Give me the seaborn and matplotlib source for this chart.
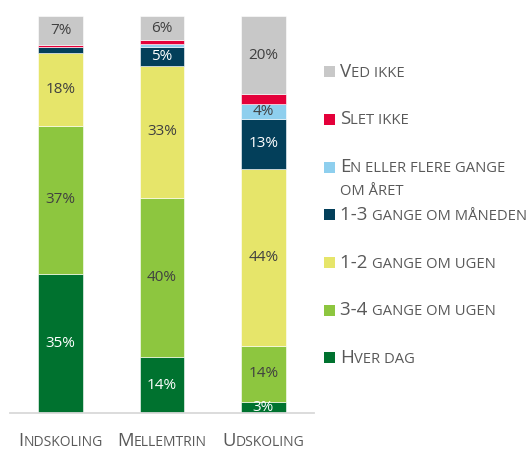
import matplotlib
matplotlib.use('Agg')
import matplotlib.pyplot as plt
import seaborn as sns
import numpy as np
from matplotlib.patches import Rectangle
from matplotlib.offsetbox import TextArea, HPacker, AnnotationBbox

# Data (percent of pupils)
categories = ['Indskoling', 'Mellemtrin', 'Udskoling']
series_names = ['Hver dag', '3-4 gange om ugen', '1-2 gange om ugen',
                '1-3 gange om måneden', 'En eller flere gange\nom året',
                'Slet ikke', 'Ved ikke']
hver_dag = [35.1, 14.0, 2.8]
tre_fire_uge = [37.2, 40.2, 14.1]
en_to_uge = [18.4, 33.1, 44.5]
en_tre_maaned = [1.3, 4.9, 12.7]
aaret = [0.2, 0.6, 3.8]
slet_ikke = [0.4, 1.0, 2.3]
ved_ikke = [7.4, 6.2, 19.8]
labels_shown = {
    'Hver dag': ['35%', '14%', '3%'],
    '3-4 gange om ugen': ['37%', '40%', '14%'],
    '1-2 gange om ugen': ['18%', '33%', '44%'],
    '1-3 gange om måneden': ['', '5%', '13%'],
    'En eller flere gange\nom året': ['', '', '4%'],
    'Slet ikke': ['', '', ''],
    'Ved ikke': ['7%', '6%', '20%'],
}

colors = ['#00722f', '#8dc63f', '#e6e56a', '#033f5a', '#8ecfee', '#e4003a', '#c8c8c8']
text_colors = ['white', '#404040', '#404040', 'white', '#404040', '#404040', '#404040']

sns.set_theme(style='white')
plt.rcParams['font.family'] = ['Open Sans', 'DejaVu Sans']

W, H = 528, 450
fig = plt.figure(figsize=(W / 100, H / 100), dpi=100)
# axes placed in pixel terms: left 10, right 314, top 15.7, bottom 413
ax = fig.add_axes([10 / W, 1 - 413 / H, 304 / W, (413 - 15.7) / H])

all_series = [hver_dag, tre_fire_uge, en_to_uge, en_tre_maaned, aaret, slet_ikke, ved_ikke]
bottom = np.zeros(len(categories))
for name, vals, col, tcol in zip(series_names, all_series, colors, text_colors):
    vals = np.array(vals) / 100
    sns.barplot(x=categories, y=vals, bottom=bottom, color=col, width=0.44,
                edgecolor='white', linewidth=0.4, ax=ax, saturation=1)
    for i, lab in enumerate(labels_shown[name]):
        if lab:
            ax.text(i, bottom[i] + vals[i] / 2, lab, ha='center', va='center',
                    fontsize=11, color=tcol)
    bottom = bottom + vals

ax.set_xlim(-0.5, 2.5)
ax.set_ylim(0, 1)
ax.set_yticks([])
ax.set_xticks(range(len(categories)))
ax.set_xticklabels([''] * len(categories))
ax.tick_params(axis='x', length=0)
ax.set_xlabel('')
ax.set_ylabel('')
for s in ['top', 'left', 'right']:
    ax.spines[s].set_visible(False)
ax.spines['bottom'].set_color('#d9d9d9')
ax.spines['bottom'].set_linewidth(1.3)


def small_caps(s, big=13.3, small=10, color='#595959'):
    # split into runs: lowercase letters become small capitals
    runs = []
    for ch in s:
        low = ch.islower() or (ch == ' ' and runs and runs[-1][1])
        if runs and runs[-1][1] == low:
            runs[-1][0] += ch
        else:
            runs.append([ch, low])
    kids = []
    for txt, low in runs:
        kids.append(TextArea(txt.upper() if low else txt,
                             textprops=dict(size=small if low else big, color=color)))
    return HPacker(children=kids, align='baseline', pad=0, sep=0)


# category labels under the bars
for i, cat in enumerate(categories):
    ab = AnnotationBbox(small_caps(cat), (i, 0), xycoords=('data', 'axes fraction'),
                        xybox=(0, -28), boxcoords='offset pixels',
                        box_alignment=(0.5, 0.5), frameon=False, annotation_clip=False)
    ax.add_artist(ab)

# legend, top entry first
legend_y0, legend_step = 71.7, 47.7
for k, (name, col) in enumerate(zip(series_names[::-1], colors[::-1])):
    yc = legend_y0 + k * legend_step
    fig.add_artist(Rectangle((324 / W, 1 - (yc + 5.5) / H), 11 / W, 11 / H,
                             transform=fig.transFigure, facecolor=col, edgecolor='none'))
    for j, line in enumerate(name.split('\n')):
        ab = AnnotationBbox(small_caps(line, big=13.5, small=10.6), (340 / W, 1 - (yc + j * 24) / H),
                            xycoords='figure fraction', box_alignment=(0, 0.5),
                            frameon=False, annotation_clip=False)
        fig.add_artist(ab)

fig.savefig('out.png', dpi=100)
